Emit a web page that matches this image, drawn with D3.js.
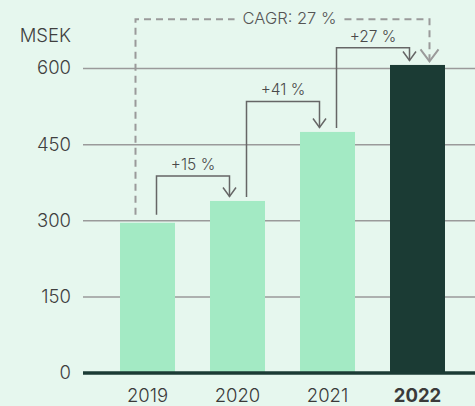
<!DOCTYPE html>
<html><head><meta charset="utf-8">
<script src="https://cdn.jsdelivr.net/npm/d3@7"></script>
<style>
html,body{margin:0;padding:0;background:#e6f7ee;}
svg{display:block;font-family:Inter,"Open Sans",sans-serif;}
</style>
</head><body>
<svg id="c" width="475" height="406"></svg>
<script>
const years = ["2019", "2020", "2021", "2022"];
const values = [295, 338, 474, 606];
const yTicks = [0, 150, 300, 450, 600];
const unitLabel = "MSEK";
const growthLabels = ["+15 %", "+41 %", "+27 %"];
const bracketLevels = [387, 534, 640];
const cagrLabel = "CAGR: 27 %";
const cagrLevel = 696;

const W = 475, H = 406;
const svg = d3.select("#c");
const left = 83;
const lightW = 300;

const x = d3.scaleBand().domain(years).range([102.5, 462.5])
  .paddingInner(35 / 90).paddingOuter(17.5 / 90);
const y = d3.scaleLinear().domain([0, 600]).range([372.5, 68]);
const cx = d => x(d) + x.bandwidth() / 2;

// grid + y labels
const gy = svg.append("g").attr("transform", `translate(${left},0)`)
  .call(d3.axisLeft(y).tickValues(yTicks).tickSize(-(W - left)).tickPadding(12).tickFormat(d3.format("d")));
gy.select(".domain").remove();
gy.selectAll(".tick line").attr("stroke", "#9a9a9a").attr("stroke-width", 1.5);
gy.selectAll(".tick text").attr("fill", "#3f3f3f").style("font-size", "18.5px")
  .attr("font-family", "Inter").attr("font-weight", lightW);

svg.append("text").attr("x", left - 12).attr("y", 41.7).attr("text-anchor", "end")
  .attr("fill", "#3f3f3f").style("font-size", "18.5px").attr("font-weight", lightW).text(unitLabel);

// bars
svg.selectAll("rect.bar").data(years).join("rect").attr("class", "bar")
  .attr("x", d => x(d)).attr("width", x.bandwidth())
  .attr("y", (d, i) => y(values[i])).attr("height", (d, i) => y(0) - y(values[i]))
  .attr("fill", (d, i) => i === years.length - 1 ? "#1b3b34" : "#a3eac4");

// baseline
svg.append("line").attr("x1", left).attr("x2", W).attr("y1", y(0) + 0.5).attr("y2", y(0) + 0.5)
  .attr("stroke", "#1b3b34").attr("stroke-width", 3.5);

// x labels
svg.selectAll("text.xl").data(years).join("text").attr("class", "xl")
  .attr("x", d => cx(d)).attr("y", 401.5).attr("text-anchor", "middle")
  .attr("fill", "#3a3a3a").style("font-size", "18.5px")
  .attr("font-weight", (d, i) => i === years.length - 1 ? 700 : lightW)
  .text(d => d);

// growth brackets
growthLabels.forEach((lab, i) => {
  const x1 = cx(years[i]) + 9, x2 = cx(years[i + 1]) - 8;
  const yStart = y(values[i]) - (i === 0 ? 8 : 4);
  const yTop = y(bracketLevels[i]);
  const yTip = y(values[i + 1]) - 4.5;
  svg.append("path").attr("d", `M${x1},${yStart}V${yTop}H${x2}V${yTip}`)
    .attr("fill", "none").attr("stroke", "#666").attr("stroke-width", 1.5);
  svg.append("path").attr("d", `M${x2 - 6.5},${yTip - 9}L${x2},${yTip}L${x2 + 6.5},${yTip - 9}`)
    .attr("fill", "none").attr("stroke", "#666").attr("stroke-width", 1.5);
  svg.append("text").attr("x", (x1 + x2) / 2).attr("y", yTop - 6).attr("text-anchor", "middle")
    .attr("fill", "#4a4a4a").style("font-size", "15.5px").attr("font-weight", lightW).text(lab);
});

// CAGR
{
  const x1 = cx(years[0]) - 12, x2 = cx(years[years.length - 1]) + 12;
  const yStart = y(values[0]) - 8, yTop = y(cagrLevel), yTip = y(values[values.length - 1]) - 3.5;
  const t = svg.append("text").attr("x", (x1 + x2) / 2 + 7).attr("y", yTop + 5)
    .attr("text-anchor", "middle").attr("fill", "#555").style("font-size", "16.5px")
    .attr("font-weight", lightW).text(cagrLabel);
  const bb = t.node().getBBox();
  const dashed = { fill: "none", stroke: "#9a9a9a", "stroke-width": 2, "stroke-dasharray": "7,5" };
  const p1 = svg.append("path").attr("d", `M${x1},${yStart}V${yTop}H${bb.x - 8}`);
  const p2 = svg.append("path").attr("d", `M${bb.x + bb.width + 8},${yTop}H${x2}V${yTip}`);
  [p1, p2].forEach(p => Object.entries(dashed).forEach(([k, v]) => p.attr(k, v)));
  svg.append("path").attr("d", `M${x2 - 9},${yTip - 12}L${x2},${yTip}L${x2 + 9},${yTip - 12}`)
    .attr("fill", "none").attr("stroke", "#9a9a9a").attr("stroke-width", 2);
}
</script>
</body></html>
